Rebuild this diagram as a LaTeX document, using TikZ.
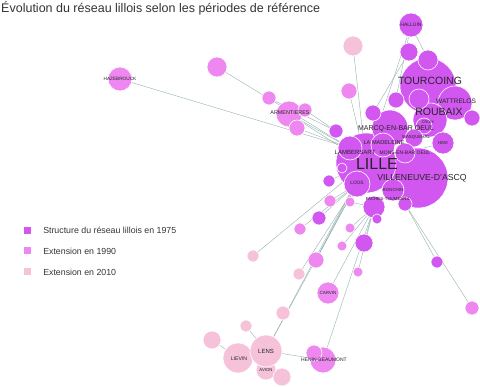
\documentclass[tikz,border=0pt]{standalone}
\usepackage{fontspec}
\setmainfont{Liberation Sans}
\usetikzlibrary{backgrounds}
\definecolor{p75}{RGB}{210,86,240}
\definecolor{p90}{RGB}{238,136,240}
\definecolor{p10}{RGB}{246,194,218}
\definecolor{lien}{RGB}{150,176,176}
\tikzset{every picture/.style={line width=0.5pt}}

\begin{document}
\begin{tikzpicture}[x=1pt,y=-1pt,
    ville/.style={circle, draw=white, line width=0.6pt, inner sep=0pt},
    v75/.style={ville, fill=p75},
    v90/.style={ville, fill=p90},
    v10/.style={ville, fill=p10},
    nom/.style={font=\fontsize{#1}{#1}\selectfont, text=black!85, inner sep=0pt},
    nom/.default=5,
    carre/.style={minimum size=7pt, inner sep=0pt},
    leg/.style={anchor=west, inner sep=0pt, font=\fontsize{8.8}{10}\selectfont, text=black!80}]
    \useasboundingbox (0,0) rectangle (480,387);

    \node[anchor=west, inner sep=0pt, font=\fontsize{12.5}{13}\selectfont, text=black!80] (titre) at (1,8) {Évolution du réseau lillois selon les périodes de référence};

    % grandes villes
    \node[v75, minimum size=56pt] (tourcoing) at (428,86) {};
    \node[v75, minimum size=60pt] (villeneuve) at (418,178) {};
    \node[v75, minimum size=60pt] (lille) at (366,163) {};
    \node[v75, minimum size=34pt] (wattrelos) at (455,103) {};
    \node[v75, minimum size=34pt] (roubaix) at (430,120) {};
    \node[v75, minimum size=36pt] (marcq) at (390,128) {};
    % 1975
    \node[v75, minimum size=24pt] (halluin) at (411,25) {};
    \node[v75, minimum size=18pt] (ha) at (409,52) {};
    \node[v75, minimum size=20pt] (hb) at (428,60) {};
    \node[v75, minimum size=20pt] (tw) at (419,99) {};
    \node[v75, minimum size=16pt] (tx) at (396,100) {};
    \node[v75, minimum size=16pt] (ty) at (472,118) {};
    \node[v75, minimum size=16pt] (croix) at (424,126) {};
    \node[v75, minimum size=18pt] (wasquehal) at (414,138) {};
    \node[v75, minimum size=22pt] (hem) at (443,143) {};
    \node[v75, minimum size=16pt] (tz) at (373,113) {};
    \node[v75, minimum size=24pt] (madeleine) at (383,145) {};
    \node[v75, minimum size=20pt] (mons) at (405,153) {};
    \node[v75, minimum size=24pt] (lambersart) at (350,148) {};
    \node[v75, minimum size=26pt] (loos) at (357,184) {};
    \node[v75, minimum size=22pt] (ronchin) at (393,190) {};
    \node[v75, minimum size=22pt] (faches) at (374,207) {};
    \node[v75, minimum size=10pt] (fb) at (377,219) {};
    \node[v75, minimum size=14pt] (fc) at (405,204) {};
    \node[v75, minimum size=14pt] (la) at (336,131) {};
    \node[v75, minimum size=12pt] (lb) at (329,181) {};
    \node[v75, minimum size=10pt] (lc) at (342,168) {};
    \node[v75, minimum size=14pt] (ld) at (319,218) {};
    \node[v75, minimum size=18pt] (le) at (364,243) {};
    \node[v75, minimum size=12pt] (lf) at (437,262) {};
    % 1990
    \node[v90, minimum size=24pt] (hazebrouck) at (120,79) {};
    \node[v90, minimum size=20pt] (pa) at (217,67) {};
    \node[v90, minimum size=14pt] (pb) at (269,98) {};
    \node[v90, minimum size=26pt] (armentieres) at (289,114) {};
    \node[v90, minimum size=14pt] (pc) at (305,110) {};
    \node[v90, minimum size=16pt] (pd) at (297,128) {};
    \node[v90, minimum size=16pt] (pe) at (349,91) {};
    \node[v90, minimum size=12pt] (pf) at (330,201) {};
    \node[v90, minimum size=10pt] (pg) at (350,202) {};
    \node[v90, minimum size=12pt] (ph) at (300,229) {};
    \node[v90, minimum size=10pt] (pi) at (350,228) {};
    \node[v90, minimum size=10pt] (pj) at (342,246) {};
    \node[v90, minimum size=16pt] (pk) at (316,260) {};
    \node[v90, minimum size=10pt] (pl) at (358,272) {};
    \node[v90, minimum size=22pt] (carvin) at (328,293) {};
    \node[v90, minimum size=14pt] (pm) at (472,308) {};
    \node[v90, minimum size=26pt] (henin) at (323,360) {};
    \node[v90, minimum size=16pt] (pn) at (314,353) {};
    % 2010
    \node[v10, minimum size=20pt] (ra) at (353,46) {};
    \node[v10, minimum size=12pt] (rb) at (253,256) {};
    \node[v10, minimum size=12pt] (rc) at (299,274) {};
    \node[v10, minimum size=14pt] (rd) at (283,313) {};
    \node[v10, minimum size=18pt] (re) at (212,340) {};
    \node[v10, minimum size=12pt] (rf) at (246,326) {};
    \node[v10, minimum size=30pt] (lievin) at (238,358) {};
    \node[v10, minimum size=20pt] (avion) at (266,370) {};
    \node[v10, minimum size=18pt] (rg) at (282,377) {};
    \node[v10, minimum size=32pt] (lens) at (266,351) {};

    % liens
    \begin{scope}[on background layer]
    \draw[lien]
        (hazebrouck) edge (lambersart)
        (pa) edge (lambersart)
        (pb) edge (la)
        (armentieres) edge (lambersart)
        (armentieres) edge (lille)
        (pc) edge (la)
        (pd) edge (lambersart)
        (pe) edge (lille)
        (ra) edge (lille)
        (halluin) edge (lille)
        (halluin) edge (marcq)
        (halluin) edge (hb)
        (ha) edge (tz)
        (hem) edge (mons)
        (roubaix) edge (mons)
        (wasquehal) edge (villeneuve)
        (lb) edge (lille)
        (pf) edge (loos)
        (ld) edge (loos)
        (ph) edge (loos)
        (rb) edge (lille)
        (pg) edge (faches)
        (pi) edge (faches)
        (pj) edge (faches)
        (pk) edge (loos)
        (pk) edge (lille)
        (rc) edge (loos)
        (pl) edge (faches)
        (carvin) edge (faches)
        (le) edge (faches)
        (lens) edge (lille)
        (lens) edge (loos)
        (henin) edge (faches)
        (lf) edge (fc)
        (pm) edge (fc)
        (lievin) edge (lens)
        (re) edge (lievin)
        (rf) edge (lens)
        (lens) edge (henin);
    \end{scope}

    % noms
    \node[nom] (n-halluin) at (411,25) {HALLUIN};
    \node[nom=10.5] (n-tourcoing) at (430,81) {TOURCOING};
    \node[nom=6.5] (n-wattrelos) at (456,101) {WATTRELOS};
    \node[nom=10.5] (n-roubaix) at (439,112) {ROUBAIX};
    \node[nom=3.8] (n-croix) at (428,122) {CROIX};
    \node[nom=7] (n-marcq) at (396,129) {MARCQ-EN-BAR OEUL};
    \node[nom=4.4] (n-wasquehal) at (416,137) {WASQUEHAL};
    \node[nom=4.3] (n-hem) at (443,143) {HEM};
    \node[nom=5.6] (n-madeleine) at (384,143) {LA MADELEINE};
    \node[nom=6] (n-lambersart) at (355,152) {LAMBERSART};
    \node[nom=5] (n-mons) at (405,153) {MONS-EN-BAR OEUL};
    \node[nom=16] (n-lille) at (377,164) {LILLE};
    \node[nom=8.7] (n-villeneuve) at (422,178) {VILLENEUVE-D'ASCQ};
    \node[nom=4.8] (n-loos) at (357,183) {LOOS};
    \node[nom=4.4] (n-ronchin) at (393,190) {RONCHIN};
    \node[nom=4.4] (n-faches) at (388,199) {FACHES-THUMESNIL};
    \node[nom=5.4] (n-armentieres) at (290,113) {ARMENTIERES};
    \node[nom=4.7] (n-hazebrouck) at (120,79) {HAZEBROUCK};
    \node[nom=4.5] (n-carvin) at (328,293) {CARVIN};
    \node[nom=6] (n-lens) at (266,351) {LENS};
    \node[nom=5.2] (n-lievin) at (239,359) {LIEVIN};
    \node[nom=4.3] (n-avion) at (266,370) {AVION};
    \node[nom=5] (n-henin) at (324,360) {HENIN-BEAUMONT};

    % legende
    \node[carre, fill=p75] (c75) at (27.5,230.5) {};
    \node[carre, fill=p90] (c90) at (27.5,251) {};
    \node[carre, fill=p10] (c10) at (27.5,272) {};
    \node[leg] (l75) at (43,230.5) {Structure du réseau lillois en 1975};
    \node[leg] (l90) at (43,251) {Extension en 1990};
    \node[leg] (l10) at (43,272) {Extension en 2010};
\end{tikzpicture}
\end{document}
